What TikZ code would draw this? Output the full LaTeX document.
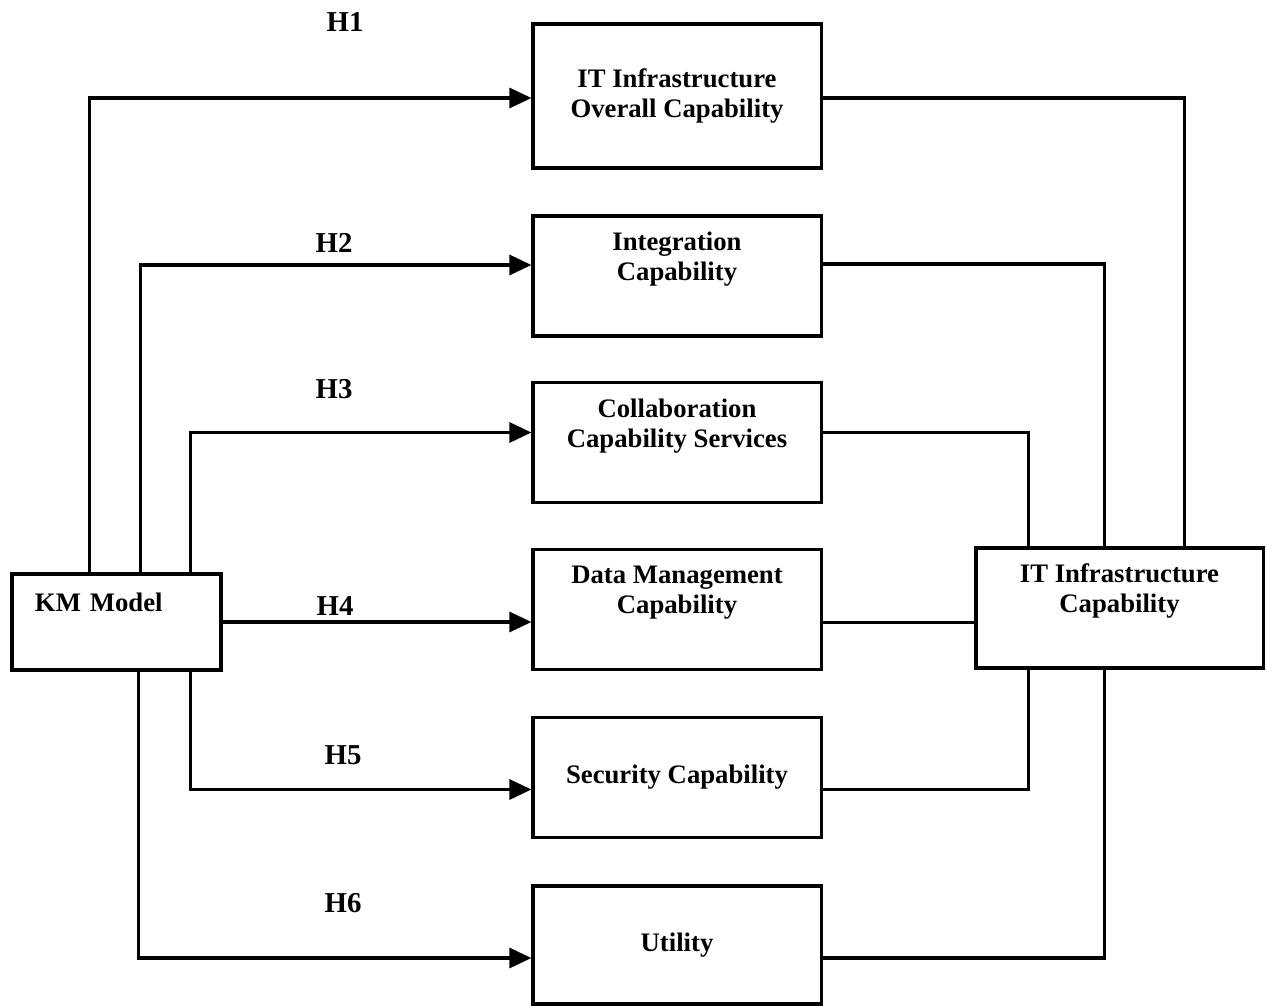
\documentclass[tikz,border=0pt]{standalone}
\usepackage{fontspec}
\setmainfont{Liberation Serif}
\usetikzlibrary{arrows.meta,positioning,calc}

\begin{document}
\begin{tikzpicture}[
    x=0.025cm, y=-0.025cm,
    box/.style={draw,line width=2.2pt,minimum width=7.2cm,minimum height=3cm,align=center,inner sep=0pt,
      font=\fontsize{19}{21.5}\selectfont\bfseries},
    hyp/.style={font=\fontsize{20.5}{24}\selectfont\bfseries},
    link/.style={line width=2.2pt},
    arr/.style={link,-{Triangle[length=0.55cm,width=0.5cm]}}
  ]
  \useasboundingbox (0,0) rectangle (1266,1005);

  % boxes
  \node[box,minimum width=5.225cm,minimum height=2.4cm,text width=4.075cm,inner xsep=0.575cm,align=left] (km) at (116.5,622) {KM Model\\\strut};
  \node[box,minimum height=3.6cm] (ovr) at (677,96) {IT Infrastructure\\Overall Capability};
  \node[box] (intg) at (677,276) {Integration\\Capability\\\strut};
  \node[box] (coll) at (677,442.5) {Collaboration\\Capability Services\\\strut};
  \node[box] (dat) at (677,609.5) {Data Management\\Capability\\\strut};
  \node[box] (sec) at (677,777.5) {Security Capability};
  \node[box,minimum height=2.95cm] (utl) at (677,945) {Utility};
  \node[box,minimum width=7.175cm] (itc) at (1119.5,608) {IT Infrastructure\\Capability\\\strut};

  % hypotheses
  \node[hyp] (h1) at (345,22) {H1};
  \node[hyp] (h2) at (334,243) {H2};
  \node[hyp] (h3) at (334,389) {H3};
  \node[hyp] (h4) at (335,606) {H4};
  \node[hyp] (h5) at (343,755) {H5};
  \node[hyp] (h6) at (343,903) {H6};

  % KM model to the capabilities
  \draw[arr] ($(km.north west)+(79,0)$) |- ($(ovr.west)+(0,2)$);
  \draw[arr] ($(km.north west)+(130,0)$) |- ($(intg.west)+(0,-11)$);
  \draw[arr] ($(km.north west)+(180,0)$) |- ($(coll.west)+(0,-10)$);
  \draw[arr] (km.east) -- (km.east -| dat.west);
  \draw[arr] ($(km.south west)+(180,0)$) |- ($(sec.west)+(0,12)$);
  \draw[arr] ($(km.south west)+(128,0)$) |- ($(utl.west)+(0,13)$);

  % capabilities to IT infrastructure capability
  \draw[link] ($(ovr.east)+(0,2)$) -| ($(itc.north west)+(210,0)$);
  \draw[link] ($(intg.east)+(0,-12)$) -| ($(itc.north west)+(130,0)$);
  \draw[link] ($(coll.east)+(0,-10)$) -| ($(itc.north west)+(54,0)$);
  \draw[link] ($(dat.east)+(0,13)$) coordinate (d4) -- (d4 -| itc.west);
  \draw[link] ($(sec.east)+(0,12)$) -| ($(itc.south west)+(54,0)$);
  \draw[link] ($(utl.east)+(0,13)$) -| ($(itc.south west)+(130,0)$);
\end{tikzpicture}
\end{document}
